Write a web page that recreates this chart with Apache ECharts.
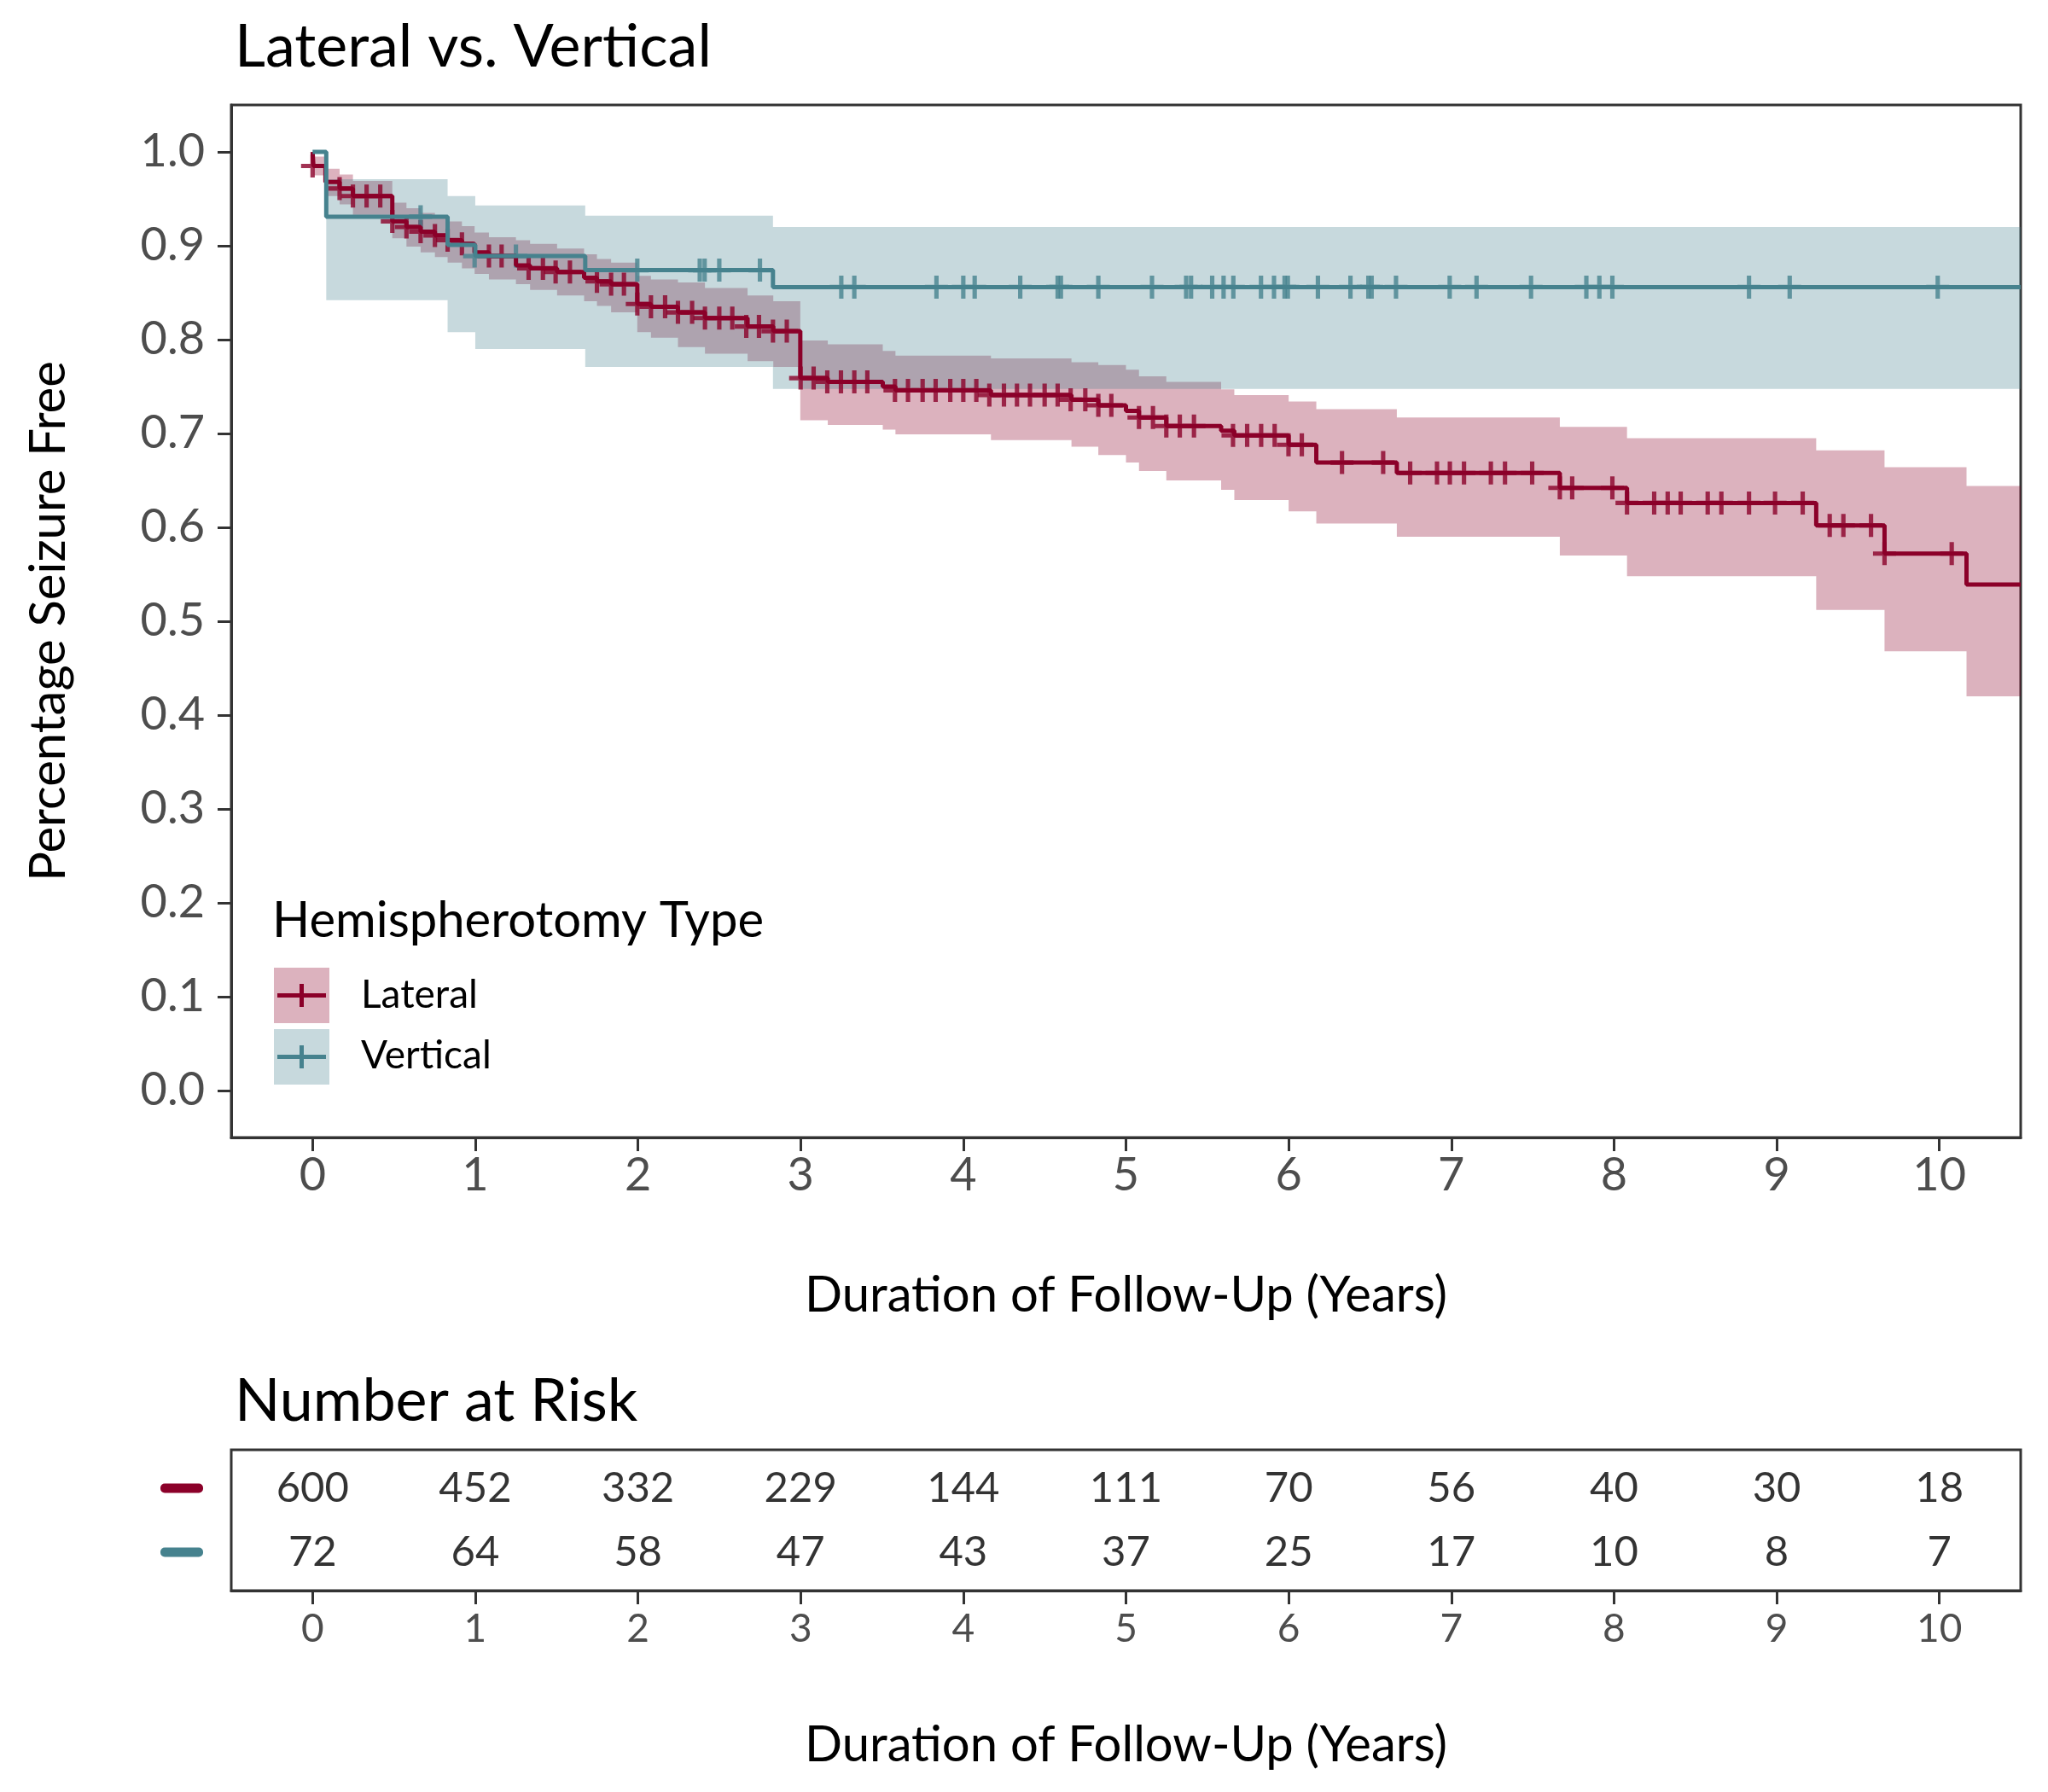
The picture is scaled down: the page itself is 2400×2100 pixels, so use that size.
<!DOCTYPE html>
<html><head><meta charset="utf-8">
<script src="https://cdn.jsdelivr.net/npm/echarts@6/dist/echarts.min.js"></script>
<style>html,body{margin:0;padding:0;background:#fff}#c{width:2400px;height:2100px}</style>
</head><body><div id="c"></div>
<script>
const FONT = 'Lato';
const xTicks = [0, 1, 2, 3, 4, 5, 6, 7, 8, 9, 10];
const yTicks = [0, 0.1, 0.2, 0.3, 0.4, 0.5, 0.6, 0.7, 0.8, 0.9, 1.0];
const xEnd = 10.5;

// Lateral: step times, survival, CI upper, CI lower
const latTime  = [0, 0.005, 0.079, 0.166, 0.248, 0.49, 0.577, 0.664, 0.752, 0.83, 0.918, 0.996, 1.084, 1.25, 1.337, 1.503, 1.669, 1.748, 1.835, 1.996, 2.08, 2.246, 2.412, 2.674, 2.832, 2.998, 3.167, 3.505, 3.583, 4.17, 4.665, 4.83, 5.0, 5.08, 5.248, 5.585, 5.666, 6.0, 6.17, 6.665, 7.667, 8.08, 9.243, 9.663, 10.167];
const latSurv  = [1.0, 0.985, 0.968, 0.961, 0.953, 0.926, 0.920, 0.915, 0.911, 0.906, 0.902, 0.893, 0.889, 0.879, 0.876, 0.872, 0.866, 0.862, 0.859, 0.838, 0.835, 0.829, 0.823, 0.814, 0.809, 0.759, 0.755, 0.750, 0.746, 0.741, 0.736, 0.730, 0.724, 0.717, 0.708, 0.703, 0.698, 0.688, 0.669, 0.658, 0.642, 0.626, 0.602, 0.572, 0.539];
const latUpper = [1.0, 0.995, 0.982, 0.976, 0.969, 0.946, 0.940, 0.935, 0.931, 0.926, 0.921, 0.914, 0.909, 0.906, 0.902, 0.897, 0.891, 0.886, 0.882, 0.868, 0.864, 0.861, 0.855, 0.847, 0.841, 0.799, 0.795, 0.788, 0.783, 0.780, 0.776, 0.773, 0.768, 0.761, 0.755, 0.747, 0.741, 0.734, 0.726, 0.717, 0.707, 0.695, 0.682, 0.664, 0.644];
const latLower = [1.0, 0.975, 0.953, 0.944, 0.933, 0.908, 0.899, 0.893, 0.888, 0.882, 0.876, 0.870, 0.864, 0.859, 0.853, 0.847, 0.841, 0.836, 0.829, 0.808, 0.802, 0.792, 0.785, 0.777, 0.771, 0.714, 0.709, 0.704, 0.699, 0.693, 0.686, 0.677, 0.669, 0.660, 0.650, 0.640, 0.629, 0.617, 0.604, 0.590, 0.570, 0.548, 0.512, 0.468, 0.420];
const latCensor = [0.0, 0.166, 0.248, 0.332, 0.416, 0.49, 0.577, 0.664, 0.752, 0.83, 0.918, 1.084, 1.162, 1.328, 1.416, 1.494, 1.582, 1.748, 1.835, 1.914, 1.996, 2.08, 2.167, 2.246, 2.333, 2.412, 2.5, 2.58, 2.666, 2.744, 2.83, 2.915, 3.0, 3.08, 3.164, 3.248, 3.33, 3.41, 3.58, 3.66, 3.75, 3.83, 3.92, 4.0, 4.08, 4.16, 4.25, 4.33, 4.41, 4.5, 4.58, 4.66, 4.75, 4.83, 4.91, 5.08, 5.166, 5.248, 5.331, 5.418, 5.658, 5.745, 5.831, 5.914, 5.999, 6.081, 6.328, 6.581, 6.747, 6.912, 6.991, 7.078, 7.243, 7.33, 7.497, 7.667, 7.743, 7.99, 8.08, 8.247, 8.33, 8.41, 8.576, 8.66, 8.83, 8.99, 9.16, 9.326, 9.41, 9.58, 9.663, 10.076];

// Vertical
const vertTime  = [0, 0.084, 0.83, 1.0, 1.676, 2.83];
const vertSurv  = [1.0, 0.931, 0.901, 0.889, 0.874, 0.856];
const vertUpper = [1.0, 0.971, 0.953, 0.943, 0.932, 0.920];
const vertLower = [1.0, 0.842, 0.808, 0.790, 0.771, 0.7475];
const vertCensor = [0.664, 0.996, 1.25, 1.996, 2.38, 2.41, 2.50, 2.75, 3.25, 3.33, 3.835, 4.0, 4.07, 4.35, 4.58, 4.60, 4.83, 5.16, 5.37, 5.40, 5.53, 5.60, 5.66, 5.83, 5.91, 5.975, 5.995, 6.18, 6.38, 6.49, 6.51, 6.66, 6.99, 7.155, 7.49, 7.83, 7.91, 7.99, 8.83, 9.08, 9.99];

// Number at risk
const riskTimes = [0, 1, 2, 3, 4, 5, 6, 7, 8, 9, 10];
const latRisk  = [600, 452, 332, 229, 144, 111, 70, 56, 40, 30, 18];
const vertRisk = [72, 64, 58, 47, 43, 37, 25, 17, 10, 8, 7];

const groups = ['Lateral', 'Vertical'];
const COL_LAT = '#8B0029';
const COL_VERT = '#46828E';
const FILL_LAT = 'rgba(139,0,41,0.3)';
const FILL_VERT = 'rgba(70,130,142,0.3)';
const AXIS_TXT = '#4D4D4D';
const LW = 5;
const PLUS = 'path://M-1.9,-10L1.9,-10L1.9,-1.9L10,-1.9L10,1.9L1.9,1.9L1.9,10L-1.9,10L-1.9,1.9L-10,1.9L-10,-1.9L-1.9,-1.9Z';

function stepAt(times, vals, t) {
  let v = vals[0];
  for (let i = 0; i < times.length; i++) if (times[i] <= t + 0.01) v = vals[i];
  return v;
}
function lineData(times, vals) {
  const d = times.map((t, i) => [t, vals[i]]);
  d.push([xEnd, vals[vals.length - 1]]);
  return d;
}
function ribbon(times, up, lo, fill, start) {
  return {
    type: 'custom', xAxisIndex: 0, yAxisIndex: 0, silent: true, clip: true,
    data: [[times[start], lo[start]]],
    renderItem: function (params, api) {
      const pts = [];
      for (let i = start; i < times.length; i++) {
        const t1 = i + 1 < times.length ? times[i + 1] : xEnd;
        pts.push(api.coord([times[i], up[i]]));
        pts.push(api.coord([t1, up[i]]));
      }
      for (let i = times.length - 1; i >= start; i--) {
        const t1 = i + 1 < times.length ? times[i + 1] : xEnd;
        pts.push(api.coord([t1, lo[i]]));
        pts.push(api.coord([times[i], lo[i]]));
      }
      return { type: 'polygon', shape: { points: pts }, style: { fill: fill } };
    }
  };
}

const chart = echarts.init(document.getElementById('c'), null, { renderer: 'canvas' });

const axisLineStyle = { show: true, onZero: false, lineStyle: { color: '#333', width: 3 } };
const tickStyle = { show: true, length: 16, lineStyle: { color: '#333', width: 3 } };

const option = {
  backgroundColor: '#fff',
  animation: false,
  textStyle: { fontFamily: FONT },
  title: [
    { text: 'Lateral vs. Vertical', left: 270, top: 15, textStyle: { fontFamily: FONT, fontSize: 70, fontWeight: 'normal', color: '#000' } },
    { text: 'Number at Risk', left: 270, top: 1602, textStyle: { fontFamily: FONT, fontSize: 70, fontWeight: 'normal', color: '#000' } }
  ],
  grid: [
    { left: 271, right: 32, top: 123, bottom: 767, show: true, borderColor: '#333', borderWidth: 3, backgroundColor: '#fff' },
    { left: 271, right: 32, top: 1699, bottom: 236, show: true, borderColor: '#333', borderWidth: 3, backgroundColor: '#fff' }
  ],
  xAxis: [
    {
      type: 'value', gridIndex: 0, min: -0.5, max: xEnd,
      axisLine: axisLineStyle, splitLine: { show: false },
      axisTick: Object.assign({}, tickStyle, { customValues: xTicks }),
      axisLabel: { customValues: xTicks, fontSize: 54, color: AXIS_TXT, margin: 18, fontFamily: FONT },
      name: 'Duration of Follow-Up (Years)', nameLocation: 'middle', nameGap: 156,
      nameTextStyle: { fontSize: 58, color: '#000', fontFamily: FONT }
    },
    {
      type: 'value', gridIndex: 1, min: -0.5, max: xEnd,
      axisLine: axisLineStyle, splitLine: { show: false },
      axisTick: Object.assign({}, tickStyle, { customValues: xTicks }),
      axisLabel: { customValues: xTicks, fontSize: 46, color: AXIS_TXT, margin: 22, fontFamily: FONT },
      name: 'Duration of Follow-Up (Years)', nameLocation: 'middle', nameGap: 152,
      nameTextStyle: { fontSize: 58, color: '#000', fontFamily: FONT }
    }
  ],
  yAxis: [
    {
      type: 'value', gridIndex: 0, min: -0.05, max: 1.05,
      axisLine: axisLineStyle, splitLine: { show: false },
      axisTick: Object.assign({}, tickStyle, { customValues: yTicks }),
      axisLabel: { customValues: yTicks, fontSize: 54, color: AXIS_TXT, margin: 31, fontFamily: FONT,
        formatter: v => Number(v).toFixed(1) },
      name: 'Percentage Seizure Free', nameLocation: 'middle', nameGap: 185,
      nameTextStyle: { fontSize: 58, color: '#000', fontFamily: FONT }
    },
    {
      type: 'value', gridIndex: 1, min: 0.4, max: 2.6,
      axisLine: { show: false, onZero: false }, axisTick: { show: false }, splitLine: { show: false },
      axisLabel: {
        customValues: [1, 2], margin: 33,
        formatter: v => (Math.round(v) === 2 ? '{a| }' : '{b| }'),
        rich: {
          a: { backgroundColor: COL_LAT, width: 50, height: 11, borderRadius: 5 },
          b: { backgroundColor: COL_VERT, width: 50, height: 11, borderRadius: 5 }
        }
      }
    }
  ],
  series: [
    ribbon(latTime, latUpper, latLower, FILL_LAT, 1),
    ribbon(vertTime, vertUpper, vertLower, FILL_VERT, 1),
    {
      name: 'Lateral', type: 'line', xAxisIndex: 0, yAxisIndex: 0, step: 'end',
      data: lineData(latTime, latSurv), showSymbol: false, symbol: 'none',
      lineStyle: { color: COL_LAT, width: LW }, silent: true
    },
    {
      name: 'Vertical', type: 'line', xAxisIndex: 0, yAxisIndex: 0, step: 'end',
      data: lineData(vertTime, vertSurv), showSymbol: false, symbol: 'none',
      lineStyle: { color: COL_VERT, width: LW }, silent: true
    },
    {
      type: 'scatter', xAxisIndex: 0, yAxisIndex: 0, symbol: PLUS, symbolSize: 27, silent: true,
      itemStyle: { color: COL_LAT },
      data: latCensor.map(t => [t, stepAt(latTime, latSurv, t)])
    },
    {
      type: 'scatter', xAxisIndex: 0, yAxisIndex: 0, symbol: PLUS, symbolSize: 27, silent: true,
      itemStyle: { color: COL_VERT },
      data: vertCensor.map(t => [t, stepAt(vertTime, vertSurv, t)])
    },
    {
      type: 'scatter', xAxisIndex: 1, yAxisIndex: 1, symbolSize: 0, silent: true,
      data: riskTimes.map((t, i) => [t, 2, latRisk[i]]),
      label: { show: true, position: 'inside', formatter: p => String(p.value[2]), fontSize: 49, color: '#000', fontFamily: FONT }
    },
    {
      type: 'scatter', xAxisIndex: 1, yAxisIndex: 1, symbolSize: 0, silent: true,
      data: riskTimes.map((t, i) => [t, 1, vertRisk[i]]),
      label: { show: true, position: 'inside', formatter: p => String(p.value[2]), fontSize: 49, color: '#000', fontFamily: FONT }
    }
  ],
  graphic: [
    { type: 'text', left: 319, top: 1050, style: { text: 'Hemispherotomy Type', fontSize: 58, fill: '#000', fontFamily: FONT } },
    { type: 'rect', shape: { x: 321, y: 1134, width: 65, height: 65 }, style: { fill: FILL_LAT } },
    { type: 'line', shape: { x1: 325, y1: 1166.5, x2: 382, y2: 1166.5 }, style: { stroke: COL_LAT, lineWidth: LW } },
    { type: 'line', shape: { x1: 353.5, y1: 1153, x2: 353.5, y2: 1180 }, style: { stroke: COL_LAT, lineWidth: LW } },
    { type: 'text', left: 423, top: 1143, style: { text: groups[0], fontSize: 46, fill: '#000', fontFamily: FONT } },
    { type: 'rect', shape: { x: 321, y: 1206, width: 65, height: 65 }, style: { fill: FILL_VERT } },
    { type: 'line', shape: { x1: 325, y1: 1238.5, x2: 382, y2: 1238.5 }, style: { stroke: COL_VERT, lineWidth: LW } },
    { type: 'line', shape: { x1: 353.5, y1: 1225, x2: 353.5, y2: 1252 }, style: { stroke: COL_VERT, lineWidth: LW } },
    { type: 'text', left: 423, top: 1214, style: { text: groups[1], fontSize: 46, fill: '#000', fontFamily: FONT } }
  ]
};
chart.setOption(option);
</script>
</body></html>
